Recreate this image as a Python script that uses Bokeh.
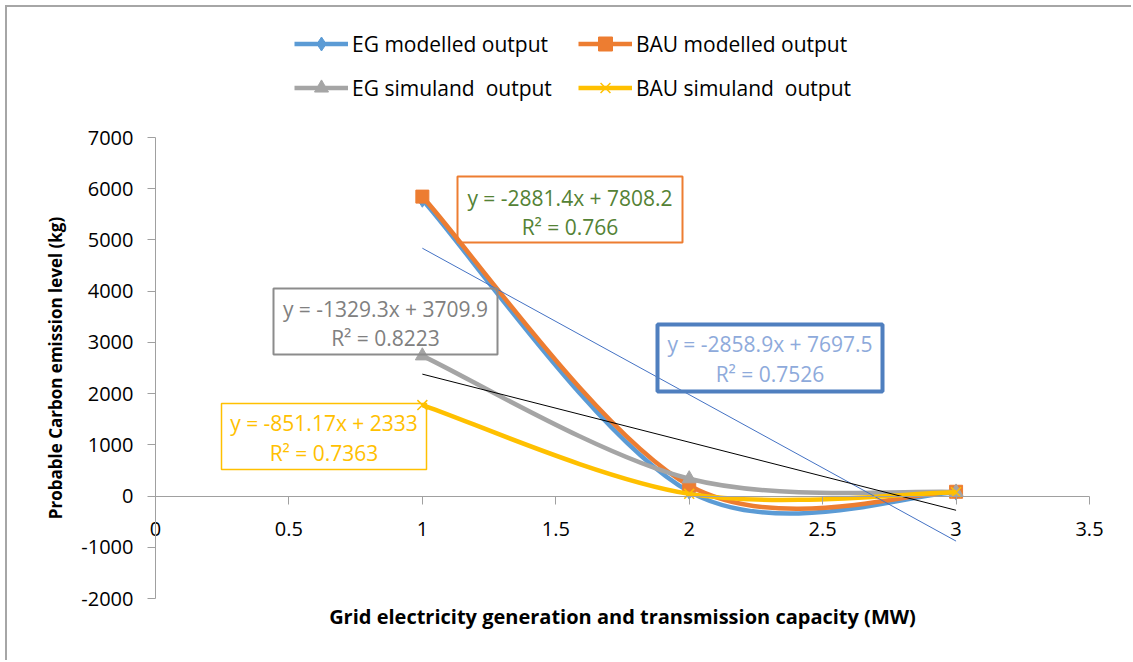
import numpy as np
from bokeh.plotting import figure
from bokeh.models import (Range1d, Legend, LegendItem, BoxAnnotation, Label,
                          FixedTicker)
from bokeh.embed import file_html
from bokeh.resources import INLINE

# ---------------- data ----------------
x_capacity = [1, 2, 3]
eg_modelled = [5785, 87, 67]
bau_modelled = [5846, 206, 84]
eg_simuland = [2737, 338, 79]
bau_simuland = [1776, 43, 74]

series_labels = ["EG modelled output", "BAU modelled output",
                 "EG simuland  output", "BAU simuland  output"]
x_ticks = [0, 0.5, 1, 1.5, 2, 2.5, 3, 3.5]
y_ticks = [-2000, -1000, 0, 1000, 2000, 3000, 4000, 5000, 6000, 7000]

eq_eg_modelled = ["y = -2858.9x + 7697.5", "R\u00b2 = 0.7526"]
eq_bau_modelled = ["y = -2881.4x + 7808.2", "R\u00b2 = 0.766"]
eq_eg_simuland = ["y = -1329.3x + 3709.9", "R\u00b2 = 0.8223"]
eq_bau_simuland = ["y = -851.17x + 2333", "R\u00b2 = 0.7363"]

x_title = "Grid electricity generation and transmission capacity (MW)"
y_title = "Probable Carbon emission level (kg)"

# ---------------- styles ----------------
FONT = "Open Sans"
C_BLUE = "#5B9BD5"
C_ORANGE = "#ED7D31"
C_GREY = "#A5A5A5"
C_YELLOW = "#FFC000"
AXIS_C = "#A0A0A0"

OFF = 7  # css margin + border
W, H = 1133 - OFF, 662 - OFF
# where the axes box of the reference sits in window pixels
AL, AR, AT, AB = 155, 1089, 137, 598
XMIN, XMAX, YMIN, YMAX = 0, 3.5, -2000, 7000


def dx(px):
    return XMIN + (px - AL) / (AR - AL) * (XMAX - XMIN)


def dy(py):
    return YMAX - (py - AT) / (AB - AT) * (YMAX - YMIN)


# the frame covers the whole canvas; ranges chosen so the axes box sits right
p = figure(width=W, height=H, output_backend="svg", toolbar_location=None,
           x_range=Range1d(dx(OFF), dx(1133)), y_range=Range1d(dy(662), dy(OFF)),
           min_border=0)
p.styles = {"margin-top": "5px", "margin-left": "5px",
            "border-top": "2px solid #A6A6A6", "border-left": "2px solid #A6A6A6"}
p.outline_line_color = None
p.grid.visible = False
p.background_fill_color = "white"
p.border_fill_color = "white"

# axes (fixed at the data origin)
p.xaxis.fixed_location = 0
p.yaxis.fixed_location = 0
p.xaxis.bounds = (XMIN, XMAX)
p.yaxis.bounds = (YMIN, YMAX)
p.xaxis.ticker = FixedTicker(ticks=x_ticks)
p.yaxis.ticker = FixedTicker(ticks=y_ticks)
p.yaxis.major_label_overrides = {v: str(v) for v in y_ticks}
for ax in (p.xaxis, p.yaxis):
    ax.axis_line_color = AXIS_C
    ax.major_tick_line_color = AXIS_C
    ax.major_tick_out = 8
    ax.major_tick_in = 0
    ax.minor_tick_line_color = None
    ax.major_label_text_font = FONT
    ax.major_label_text_font_size = "20px"
    ax.major_label_text_color = "#000000"
p.xaxis.major_label_standoff = 18
p.yaxis.major_label_standoff = 14
p.yaxis.axis_label = y_title
p.yaxis.axis_label_text_font = FONT
p.yaxis.axis_label_text_font_style = "bold"
p.yaxis.axis_label_text_font_size = "17px"
p.yaxis.axis_label_text_color = "#000000"
p.yaxis.axis_label_standoff = 11

p.add_layout(Label(x=(XMIN + XMAX) / 2, y=dy(616), text=x_title, text_align="center",
                   text_baseline="middle", text_font=FONT, text_font_size="20px",
                   text_font_style="bold", text_color="#000000"))


# smoothed (Excel-style) curve control points from the data
def smooth_segments(xs, ys):
    P = np.column_stack([xs, ys]).astype(float)
    n = len(P)
    segs = {k: [] for k in ("x0", "y0", "x1", "y1", "cx0", "cy0", "cx1", "cy1")}
    for i in range(n - 1):
        prev = P[i - 1] if i > 0 else P[i]
        nxt = P[i + 2] if i + 2 < n else P[i + 1]
        c0 = P[i] + (P[i + 1] - prev) / 6.0
        c1 = P[i + 1] - (nxt - P[i]) / 6.0
        segs["x0"].append(P[i][0]); segs["y0"].append(P[i][1])
        segs["x1"].append(P[i + 1][0]); segs["y1"].append(P[i + 1][1])
        segs["cx0"].append(c0[0]); segs["cy0"].append(c0[1])
        segs["cx1"].append(c1[0]); segs["cy1"].append(c1[1])
    return segs


series = [
    (eg_modelled, C_BLUE, "diamond", 15),
    (bau_modelled, C_ORANGE, "square", 13),
    (eg_simuland, C_GREY, "triangle", 14),
    (bau_simuland, C_YELLOW, "x", 14),
]

NAN = [float("nan")]
items = []
for (ys, col, mk, sz), lab in zip(series, series_labels):
    s = smooth_segments(x_capacity, ys)
    p.bezier(x0=s["x0"], y0=s["y0"], x1=s["x1"], y1=s["y1"],
             cx0=s["cx0"], cy0=s["cy0"], cx1=s["cx1"], cy1=s["cy1"],
             line_color=col, line_width=4.5)
    if mk == "x":
        sr = p.scatter(x_capacity, ys, marker=mk, size=sz, line_color=col, line_width=1.5)
    else:
        sr = p.scatter(x_capacity, ys, marker=mk, size=sz, fill_color=col, line_color=col)
    # line sample for the legend only (holds no visible point)
    lr = p.line(x=NAN, y=NAN, line_color=col, line_width=4.5)
    items.append(LegendItem(label=lab, renderers=[lr, sr]))

# linear trend lines (computed from the data)
xt = [min(x_capacity), max(x_capacity)]
m1, b1 = np.polyfit(x_capacity, eg_modelled, 1)
p.line(xt, [m1 * v + b1 for v in xt], line_color="#4472C4", line_width=1)
m3, b3 = np.polyfit(x_capacity, eg_simuland, 1)
p.line(xt, [m3 * v + b3 for v in xt], line_color="#000000", line_width=1)

# equation boxes
boxes = [
    (eq_bau_modelled, (457, 682, 176, 242), C_ORANGE, 2, "#548235", (197, 226)),
    (eq_eg_simuland, (273, 497, 288, 354), "#8C8C8C", 2, "#808080", (308, 337)),
    (eq_bau_simuland, (221, 426, 403, 469), C_YELLOW, 1.5, C_YELLOW, (422, 452)),
    (eq_eg_modelled, (657, 882, 324, 391), "#4F7FBF", 4, "#8EAADB", (343, 373)),
]
for lines, (l, r, t, b), bc, bw, tc, (ly1, ly2) in boxes:
    p.add_layout(BoxAnnotation(left=dx(l), right=dx(r), top=dy(t), bottom=dy(b),
                               fill_color=None, fill_alpha=0, line_color=bc,
                               line_width=bw, line_alpha=1))
    for txt, ly in zip(lines, (ly1, ly2)):
        p.add_layout(Label(x=dx((l + r) / 2), y=dy(ly), text=txt, text_align="center",
                           text_baseline="middle", text_font=FONT,
                           text_font_size="21px", text_color=tc))

# legend: bottom-left corner given in screen px from the frame's bottom-left
legend = Legend(items=items, orientation="horizontal", ncols=2,
                location=(294 - OFF, 662 - 105), border_line_color=None,
                background_fill_alpha=0, label_text_font=FONT,
                label_text_font_size="21px", label_text_color="#000000",
                glyph_width=54, glyph_height=35, label_standoff=4,
                label_width=217, spacing=9, padding=0, margin=0)
p.add_layout(legend)

open("out.html", "w").write(file_html(p, INLINE))
